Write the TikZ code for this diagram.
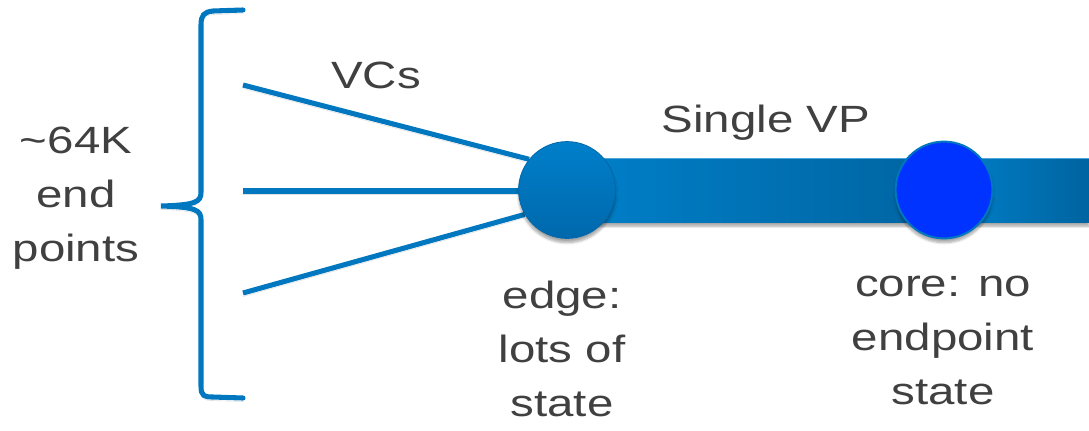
\documentclass[tikz,border=0pt]{standalone}
\usepackage{fontspec}
\newfontfamily\slidefont[FakeStretch=1.25]{Liberation Sans}
\usetikzlibrary{calc,backgrounds,shadows.blur}

\definecolor{vcblue}{RGB}{0,119,190}
\definecolor{barlight}{RGB}{0,128,202}
\definecolor{bardark}{RGB}{0,100,160}
\definecolor{edgetop}{RGB}{0,127,202}
\definecolor{edgebot}{RGB}{0,104,172}
\definecolor{corefill}{RGB}{0,51,255}
\definecolor{inkgrey}{RGB}{64,64,64}

\begin{document}
\begin{tikzpicture}[x=0.025cm, y=-0.025cm,
    txt/.style={font=\slidefont\fontsize{27}{38.4}\selectfont, text=inkgrey,
      align=center, inner sep=0pt, anchor=base},
    vcline/.style={draw=vcblue, line width=3.6pt,
      preaction={draw=black, opacity=.12, transform canvas={yshift=-2.5pt}}},
    hub/.style={circle, minimum size=2.42cm, inner sep=0pt,
      blur shadow={shadow xshift=0pt, shadow yshift=-3pt, shadow opacity=35, shadow blur steps=6}},
    vpbar/.style={blur shadow={shadow xshift=0pt, shadow yshift=-3pt, shadow opacity=35, shadow blur steps=6}}]

\useasboundingbox (0,0) rectangle (1089,430);

% switches
\node[hub, draw=edgebot, line width=.6pt, top color=edgetop, bottom color=edgebot] (edge) at (567,190) {};
\node[hub, draw=vcblue, line width=1.4pt, fill=corefill] (core) at (944,190) {};
\coordinate (vpend) at (1089,190);

% end points of the VCs
\coordinate (vc1) at (243,85);
\coordinate (vc2) at (243,191);
\coordinate (vc3) at (243,293);

\begin{pgfonlayer}{background}
% the VP, in two runs
\path[vpbar, left color=barlight, right color=bardark]
  ($(edge.center)+(0,-32)$) rectangle ($(core.center)+(0,32)$);
\path[vpbar, left color=barlight, right color=bardark]
  ($(core.center)+(0,-32)$) rectangle ($(vpend)+(0,32)$);
\draw[barlight!70!white, line width=.8pt] ($(edge.center)+(0,-31.5)$) -- ($(vpend)+(0,-31.5)$);

% VCs into the edge switch
\draw[vcline] (vc1) -- (edge.141);
\draw[vcline] (vc2) -- (edge.center |- vc2);
\draw[vcline] (vc3) -- (edge.210);
\end{pgfonlayer}

% brace
\draw[vcline, line cap=round] (243,10) -- (213,11) .. controls (204,12) and (201,15) .. (201,25)
  -- (201,192) .. controls (201,202) and (196,205) .. (161,206)
  .. controls (196,207) and (201,210) .. (201,220)
  -- (201,386) .. controls (201,396) and (204,397) .. (213,397) -- (243,398);

% labels (base = last line)
\node[txt] (vcs) at (376,88) {VCs};
\node[txt] (vp) at (766,132) {Single VP};
\node[txt] (endpts) at (76,261) {\char`\~64K\\end\\points};
\node[txt] (edgelbl) at (562,416) {edge:\\lots of\\state};
\node[txt] (corelbl) at (943,404) {core: no\\endpoint\\state};
\end{tikzpicture}
\end{document}
